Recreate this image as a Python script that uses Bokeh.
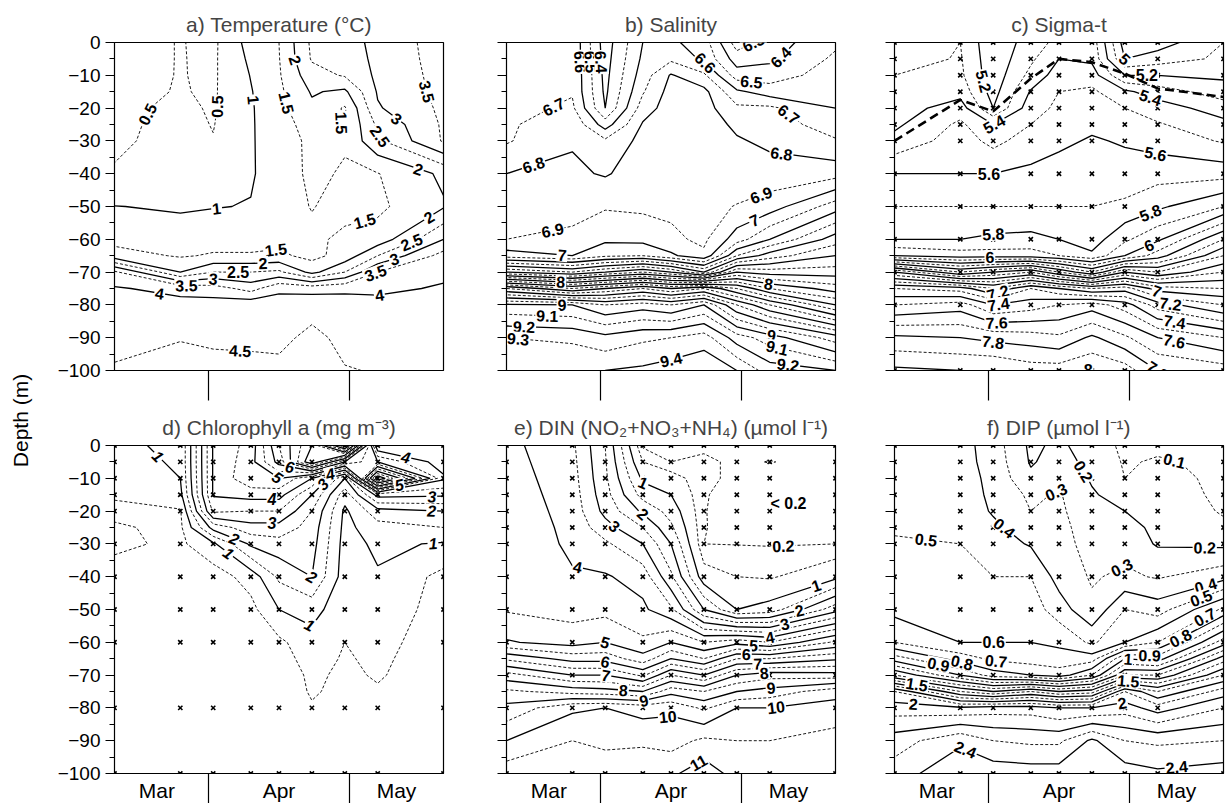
import math
import numpy as np
import contourpy
from bokeh.plotting import figure
from bokeh.models import Range1d, FixedTicker, ColumnDataSource
from bokeh.layouts import row, column
from bokeh.embed import file_html
from bokeh.resources import INLINE
from bokeh.core.properties import value

FONT = "Liberation Sans"
FW, FH = 329, 328
SX, SY = FW / 70.0, FH / 100.0

# ---------------- data ----------------
station_days = [71, 85, 92, 100, 106, 113, 120, 127, 141]
grid_depths = [0, 5, 10, 15, 20, 25, 30, 40, 50, 60, 65, 70, 75, 80, 90, 100]

month_centres = [80, 106, 131]
month_names = ["Mar", "Apr", "May"]
month_bounds = [91, 121]
depth_ticks = [0, -10, -20, -30, -40, -50, -60, -70, -80, -90, -100]
depth_minor = [-5, -15, -25, -35, -45, -55, -65, -75, -85, -95]

samples_d = [0, 5, 10, 15, 20, 30, 40, 50, 60, 80, 100]
samples_cef = [0, 5, 10, 15, 20, 25, 30, 40, 50, 60, 70, 80, 100]

# rows = depths (grid_depths), columns = stations (station_days)
temperature = [
    [0.30, 0.52, 0.40, 1.20, 1.50, 2.60, 2.70, 3.20, 3.70],
    [0.30, 0.52, 0.42, 1.10, 1.48, 2.55, 2.65, 3.15, 3.70],
    [0.32, 0.52, 0.43, 1.02, 1.45, 2.30, 2.55, 3.10, 3.68],
    [0.35, 0.53, 0.44, 0.97, 1.40, 2.05, 1.90, 3.05, 3.65],
    [0.38, 0.60, 0.45, 0.95, 1.35, 1.90, 1.45, 2.95, 3.60],
    [0.39, 0.65, 0.48, 0.95, 1.30, 1.70, 1.48, 2.60, 3.57],
    [0.40, 0.70, 0.52, 0.95, 1.28, 1.60, 1.55, 2.40, 3.55],
    [0.55, 0.80, 0.75, 0.95, 1.25, 1.60, 1.45, 1.48, 2.10],
    [1.01, 0.95, 0.98, 1.02, 1.30, 1.52, 1.35, 1.40, 1.95],
    [1.35, 1.20, 1.30, 1.30, 1.35, 1.40, 1.60, 1.70, 3.00],
    [1.70, 1.45, 1.55, 1.55, 1.60, 1.35, 1.70, 2.50, 3.70],
    [3.60, 2.00, 2.50, 2.50, 2.60, 1.85, 2.50, 3.50, 3.90],
    [4.05, 3.85, 3.75, 3.30, 3.90, 3.80, 3.90, 3.90, 4.05],
    [4.15, 4.15, 4.20, 4.35, 4.20, 4.35, 4.20, 4.15, 4.15],
    [4.35, 4.48, 4.42, 4.45, 4.40, 4.60, 4.40, 4.40, 4.30],
    [4.55, 4.65, 4.65, 4.57, 4.60, 4.70, 4.52, 4.48, 4.40],
]
salinity = [
    [6.62, 6.68, 6.35, 6.60, 6.62, 6.55, 6.25, 6.35, 6.48],
    [6.63, 6.68, 6.36, 6.62, 6.68, 6.58, 6.35, 6.38, 6.52],
    [6.64, 6.69, 6.37, 6.65, 6.81, 6.72, 6.45, 6.45, 6.55],
    [6.65, 6.69, 6.38, 6.69, 6.84, 6.83, 6.62, 6.55, 6.58],
    [6.66, 6.72, 6.40, 6.75, 6.85, 6.84, 6.72, 6.72, 6.60],
    [6.68, 6.78, 6.55, 6.81, 6.86, 6.85, 6.78, 6.75, 6.65],
    [6.69, 6.79, 6.72, 6.83, 6.86, 6.86, 6.81, 6.78, 6.71],
    [6.80, 6.82, 6.79, 6.85, 6.87, 6.87, 6.84, 6.84, 6.86],
    [6.86, 6.87, 6.89, 6.88, 6.88, 6.87, 6.905, 6.95, 7.15],
    [6.90, 6.92, 6.98, 6.97, 6.92, 6.88, 7.05, 7.20, 7.45],
    [7.05, 7.00, 7.08, 7.10, 7.02, 6.92, 7.30, 7.45, 7.60],
    [7.60, 7.50, 7.60, 7.70, 7.60, 7.40, 7.80, 7.75, 7.75],
    [8.50, 8.30, 8.40, 8.50, 8.40, 8.50, 8.30, 8.10, 7.95],
    [9.02, 9.00, 8.90, 8.95, 8.90, 9.00, 8.70, 8.50, 8.20],
    [9.30, 9.28, 9.23, 9.28, 9.30, 9.35, 9.15, 9.05, 8.85],
    [9.39, 9.39, 9.40, 9.42, 9.45, 9.48, 9.40, 9.25, 9.20],
]
sigma_t = [
    [5.20, 5.30, 5.12, 5.25, 5.33, 5.36, 4.95, 4.95, 5.10],
    [5.25, 5.31, 5.13, 5.28, 5.40, 5.38, 5.00, 5.05, 5.12],
    [5.30, 5.32, 5.14, 5.33, 5.45, 5.45, 5.20, 5.20, 5.18],
    [5.32, 5.36, 5.16, 5.41, 5.50, 5.52, 5.42, 5.35, 5.25],
    [5.35, 5.45, 5.20, 5.46, 5.52, 5.55, 5.50, 5.45, 5.35],
    [5.38, 5.52, 5.40, 5.50, 5.55, 5.58, 5.55, 5.51, 5.43],
    [5.43, 5.55, 5.47, 5.55, 5.58, 5.61, 5.59, 5.56, 5.49],
    [5.60, 5.60, 5.60, 5.62, 5.64, 5.65, 5.64, 5.66, 5.66],
    [5.70, 5.70, 5.70, 5.70, 5.70, 5.70, 5.72, 5.78, 5.90],
    [5.80, 5.80, 5.82, 5.83, 5.80, 5.75, 5.88, 5.98, 6.30],
    [6.00, 5.95, 5.95, 5.95, 5.90, 5.82, 6.00, 6.15, 6.50],
    [6.80, 6.50, 6.60, 6.70, 6.50, 6.30, 6.60, 6.50, 6.70],
    [7.30, 7.25, 7.10, 7.30, 7.20, 7.10, 7.15, 6.95, 6.90],
    [7.50, 7.55, 7.40, 7.45, 7.50, 7.55, 7.45, 7.25, 7.10],
    [7.82, 7.80, 7.77, 7.75, 7.72, 7.82, 7.72, 7.60, 7.50],
    [8.02, 8.00, 8.00, 7.95, 7.95, 7.99, 7.95, 7.80, 7.75],
]
chlorophyll = [
    [0.95, 1.05, 4.05, 4.70, 6.50, 8.00, 11.0, 3.50, 3.50],
    [0.85, 1.05, 4.05, 4.80, 6.20, 8.50, 6.00, 5.00, 3.70],
    [0.70, 1.00, 4.05, 4.90, 5.00, 4.00, 2.00, 8.50, 4.10],
    [0.55, 0.85, 4.05, 4.20, 4.20, 3.00, 1.20, 3.20, 3.10],
    [0.40, 0.45, 3.60, 3.50, 3.50, 2.50, 0.90, 1.80, 2.00],
    [0.55, 0.40, 2.20, 2.80, 2.80, 2.30, 0.85, 1.30, 1.50],
    [0.60, 0.40, 0.90, 2.10, 2.30, 2.20, 0.80, 1.10, 0.95],
    [0.30, 0.30, 0.25, 0.70, 1.60, 2.00, 0.75, 0.95, 0.35],
    [0.20, 0.20, 0.20, 0.35, 1.00, 1.20, 0.65, 0.80, 0.30],
    [0.15, 0.15, 0.15, 0.20, 0.40, 0.80, 0.50, 0.65, 0.25],
    [0.10, 0.12, 0.12, 0.15, 0.30, 0.70, 0.45, 0.60, 0.20],
    [0.10, 0.10, 0.10, 0.12, 0.20, 0.60, 0.40, 0.55, 0.18],
    [0.10, 0.10, 0.10, 0.10, 0.15, 0.56, 0.35, 0.45, 0.15],
    [0.10, 0.10, 0.10, 0.10, 0.10, 0.45, 0.30, 0.30, 0.12],
    [0.10, 0.10, 0.10, 0.10, 0.10, 0.30, 0.20, 0.20, 0.10],
    [0.10, 0.10, 0.10, 0.10, 0.10, 0.20, 0.15, 0.15, 0.10],
]
din = [
    [4.15, 3.60, 2.50, 0.15, 0.15, 0.15, 0.10, 0.10, 0.10],
    [4.20, 3.65, 2.55, 0.50, 0.20, 0.25, 0.15, 0.21, 0.10],
    [4.25, 3.70, 2.60, 0.90, 0.70, 0.25, 0.15, 0.10, 0.10],
    [4.30, 3.75, 2.70, 1.30, 1.00, 0.22, 0.10, 0.10, 0.10],
    [4.35, 3.80, 2.85, 1.90, 1.30, 0.21, 0.10, 0.10, 0.10],
    [4.40, 3.85, 3.20, 2.50, 1.60, 0.21, 0.12, 0.12, 0.15],
    [4.40, 3.90, 3.60, 3.00, 2.00, 0.20, 0.19, 0.18, 0.20],
    [4.40, 4.05, 4.05, 3.80, 2.60, 0.70, 0.50, 0.45, 0.85],
    [4.45, 4.30, 4.35, 4.10, 3.60, 2.00, 1.00, 1.20, 2.80],
    [5.05, 4.80, 5.00, 4.60, 5.00, 4.50, 4.80, 4.50, 5.60],
    [6.40, 5.80, 5.80, 5.20, 6.00, 5.50, 6.50, 6.50, 6.90],
    [7.70, 7.00, 7.00, 6.40, 7.50, 7.00, 8.00, 8.30, 8.20],
    [8.60, 8.30, 8.20, 8.00, 8.80, 8.50, 9.00, 9.20, 9.80],
    [9.15, 9.90, 10.00, 9.80, 9.90, 9.40, 10.00, 10.00, 10.20],
    [10.00, 10.50, 10.40, 10.40, 10.30, 10.60, 10.50, 10.50, 10.70],
    [10.80, 10.70, 10.75, 10.90, 10.90, 11.30, 10.80, 10.80, 10.95],
]
dip = [
    [0.46, 0.44, 0.35, 0.18, 0.22, 0.15, 0.08, 0.08, 0.08],
    [0.46, 0.44, 0.36, 0.19, 0.24, 0.17, 0.09, 0.11, 0.08],
    [0.47, 0.45, 0.37, 0.22, 0.27, 0.19, 0.10, 0.13, 0.08],
    [0.47, 0.45, 0.38, 0.28, 0.31, 0.21, 0.16, 0.15, 0.08],
    [0.48, 0.46, 0.39, 0.30, 0.32, 0.23, 0.20, 0.17, 0.09],
    [0.49, 0.48, 0.42, 0.35, 0.33, 0.25, 0.23, 0.18, 0.12],
    [0.51, 0.50, 0.45, 0.39, 0.34, 0.26, 0.26, 0.19, 0.18],
    [0.54, 0.53, 0.50, 0.50, 0.36, 0.29, 0.32, 0.29, 0.36],
    [0.57, 0.56, 0.55, 0.55, 0.45, 0.32, 0.50, 0.45, 0.72],
    [0.70, 0.60, 0.60, 0.60, 0.58, 0.48, 0.60, 0.70, 1.15],
    [0.95, 0.75, 0.68, 0.65, 0.64, 0.65, 1.00, 0.95, 1.45],
    [1.30, 1.00, 0.85, 0.80, 0.75, 0.90, 1.30, 1.30, 1.70],
    [1.90, 1.50, 1.40, 1.50, 1.40, 1.45, 1.90, 1.70, 1.95],
    [2.05, 2.02, 2.05, 2.05, 2.00, 2.00, 2.05, 1.95, 2.10],
    [2.25, 2.38, 2.30, 2.28, 2.28, 2.42, 2.30, 2.28, 2.30],
    [2.35, 2.48, 2.46, 2.45, 2.45, 2.50, 2.45, 2.42, 2.45],
]

temp_levels = [0.5, 1.0, 1.5, 2.0, 2.5, 3.0, 3.5, 4.0, 4.5]
sal_levels = [6.3, 6.4, 6.5, 6.6, 6.7, 6.8, 6.9, 7.0, 7.1, 7.2, 7.3, 7.4, 7.5, 7.6, 7.7, 7.8,
              7.9, 8.0, 8.1, 8.2, 8.3, 8.4, 8.5, 8.6, 8.7, 8.8, 8.9, 9.0, 9.1, 9.2, 9.3, 9.4]
sig_levels = [5.0, 5.1, 5.2, 5.3, 5.4, 5.5, 5.6, 5.7, 5.8, 5.9, 6.0, 6.1, 6.2, 6.3, 6.4, 6.5,
              6.6, 6.7, 6.8, 6.9, 7.0, 7.1, 7.2, 7.3, 7.4, 7.5, 7.6, 7.7, 7.8, 7.9, 8.0]
chl_levels = [0.5, 1.0, 1.5, 2.0, 2.5, 3.0, 3.5, 4.0, 4.5, 5.0, 5.5, 6.0, 6.5, 7.0, 7.5, 8.0,
              8.5, 9.0, 9.5, 10.0, 10.5]
din_levels = [0.2, 0.5, 1.0, 1.5, 2.0, 2.5, 3.0, 3.5, 4.0, 4.5, 5.0, 5.5, 6.0, 6.5, 7.0, 7.5,
              8.0, 8.5, 9.0, 9.5, 10.0, 10.5, 11.0]
dip_levels = [0.1, 0.2, 0.3, 0.4, 0.5, 0.6, 0.7, 0.8, 0.9, 1.0, 1.1, 1.2, 1.3, 1.4, 1.5, 1.6,
              1.7, 1.8, 1.9, 2.0, 2.1, 2.2, 2.3, 2.4]

# contour labels: (level, approx day, approx depth)
temp_labels = [(0.5, 79.6, 23), (0.5, 94.1, 19.6), (1.0, 100.5, 17.5), (1.5, 107.2, 18.5),
               (2.0, 108.3, 5.9), (1.5, 118.2, 24.6), (2.5, 127.4, 28.7), (3.0, 129.8, 25.6),
               (3.5, 135.9, 15.5), (2.0, 135.5, 39.3), (1.0, 92.7, 50.2), (1.5, 124.9, 58),
               (2.0, 138, 53.5), (1.5, 105.4, 64.1), (2.5, 134.4, 61.6), (2.0, 102.6, 68.2),
               (3.0, 130.9, 67.7), (2.5, 97.3, 70.7), (3.0, 92, 71.7), (3.5, 86.3, 74.3),
               (3.5, 127, 72.2), (4.0, 80.7, 75.8), (4.0, 127.4, 77.3), (4.5, 97.7, 95.1)]
sal_labels = [(6.6, 85.8, 6), (6.5, 88, 6), (6.4, 90.8, 6), (6.7, 80.5, 18.1), (6.8, 77, 38.4),
              (6.6, 112.4, 7.5), (6.3, 126.2, 6), (6.5, 123, 13.6), (6.4, 132.6, 9),
              (6.7, 130.1, 23.7), (6.8, 129.4, 34.9), (6.9, 81, 58.6), (6.9, 125.4, 47.4),
              (7.0, 82.8, 65.1), (7.0, 124.3, 56), (8.0, 82.5, 74.3), (8.0, 126.8, 73.3),
              (9.0, 82.8, 80.3), (9.1, 79.7, 82.9), (9.2, 74.7, 87.4), (9.3, 73.3, 93.1),
              (9.4, 105.9, 96.1), (9.0, 127.2, 90.6), (9.1, 128.6, 93.1), (9.2, 131.1, 96.1)]
sig_labels = [(5.2, 87.9, 12.6), (5.4, 92.5, 25.7), (5.0, 119, 6), (5.2, 124.7, 12.1),
              (5.4, 125.4, 17.1), (5.6, 91.1, 40.4), (5.6, 126.4, 34.9), (5.8, 92, 58),
              (5.8, 125.6, 52.5), (6.0, 91.3, 66.2), (6.0, 124.9, 61.1), (7.0, 126.7, 76.3),
              (7.2, 93.1, 76.8), (7.2, 129.8, 78.8), (7.4, 93.1, 79.8), (7.4, 130.9, 82.4),
              (7.6, 92.7, 84.9), (7.6, 130.9, 88.4), (7.8, 92, 91), (7.8, 130.6, 98.2),
              (8.0, 112.2, 99.7)]
chl_labels = [(1.0, 80.5, 2.9), (6.0, 108.4, 5.5), (4.0, 116.5, 6.5), (5.0, 105.3, 10.5),
              (4.0, 104.5, 16.6), (3.0, 115.1, 11.5), (3.0, 104.5, 23.6), (4.0, 132.8, 4.9),
              (5.0, 131.4, 11), (3.0, 138.5, 15), (2.0, 138.5, 19.6), (2.0, 97.1, 26.2),
              (1.0, 96.4, 30.7), (2.0, 112.3, 41.8), (1.0, 112.5, 54.8), (1.0, 138.7, 28.6)]
din_labels = [(1.0, 99.9, 12), (2.0, 99.6, 21.6), (3.0, 94.6, 23.6), (4.0, 86.5, 34.7),
              (0.2, 130, 34.2), (1.0, 136.9, 42.7), (2.0, 133.4, 50.8), (3.0, 130.2, 54.3),
              (4.0, 127, 58.4), (5.0, 92, 59.4), (5.0, 123.5, 61.9), (6.0, 92, 66),
              (6.0, 122, 65.5), (7.0, 92.1, 70.5), (7.0, 124.5, 68), (8.0, 95.9, 74),
              (8.0, 126, 72), (9.0, 100.1, 77.1), (9.0, 127.4, 76.1), (10.0, 105.1, 79.6),
              (10.0, 128.4, 80.1), (11.0, 111.5, 95.8)]
dip_labels = [(0.1, 130.7, 3.9), (0.2, 110.5, 8.5), (0.3, 105.2, 13.5), (0.4, 95, 24.1),
              (0.5, 77.6, 29.7), (0.2, 137, 33.7), (0.3, 119.4, 37.3), (0.4, 137.3, 43.2),
              (0.5, 136.3, 46.8), (0.7, 136.6, 51.3), (0.8, 131, 56.4), (0.9, 125.3, 62.9),
              (1.0, 120.7, 65), (1.5, 120.7, 72.5), (2.0, 119.3, 77.1), (0.6, 92.1, 56.9),
              (0.7, 92.8, 62.9), (0.8, 85.4, 66), (0.9, 80.1, 68.5), (1.5, 75.8, 72.5),
              (2.0, 75.1, 77.1), (2.4, 86.1, 92.7), (2.4, 131, 97.5)]

# thick dashed line in sigma-t panel
mld_days = [71, 85, 92, 100, 106, 113, 120, 127, 141]
mld_depths = [30, 17.5, 21, 11, 5, 6, 9.5, 14, 16.6]

note_text = ["< 0.2"]
note_day = [131]
note_depth = [17.6]


def fmt(v):
    return f"{v:g}"


def is_solid(lev, rule):
    if rule == "half":
        return abs(lev - round(lev)) < 1e-6
    return int(round(lev * 10)) % 2 == 0


def snap(segs, day, depth):
    px, py = day * SX, -depth * SY
    best = (1e9, day, -depth, 0.0)
    for s in segs:
        if len(s) < 2:
            continue
        ax = s[:-1, 0] * SX
        ay = s[:-1, 1] * SY
        dx = s[1:, 0] * SX - ax
        dy = s[1:, 1] * SY - ay
        L2 = dx * dx + dy * dy
        L2 = np.where(L2 == 0, 1e-12, L2)
        t = np.clip(((px - ax) * dx + (py - ay) * dy) / L2, 0, 1)
        qx = ax + t * dx
        qy = ay + t * dy
        dist = np.hypot(qx - px, qy - py)
        i = int(np.argmin(dist))
        if dist[i] < best[0]:
            best = (dist[i], qx[i] / SX, qy[i] / SY, math.atan2(dy[i], dx[i]))
    d, x, y, ang = best
    if d > 30:
        return day, -depth, 0.0
    if ang > math.pi / 2:
        ang -= math.pi
    elif ang <= -math.pi / 2:
        ang += math.pi
    return x, y, ang


def build(title, grid, levels, rule, labels, samples, ylabels, months, left, right,
          italic=False):
    p = figure(title=title, frame_width=FW, frame_height=FH,
               x_range=Range1d(71, 141), y_range=Range1d(-100, 0),
               output_backend="svg", toolbar_location=None,
               min_border_left=left, min_border_right=right,
               min_border_top=(35 if months else 42), min_border_bottom=(31 if months else 37),
               background_fill_color="white", border_fill_color="white")
    p.outline_line_color = "black"
    p.outline_line_width = 1.2
    p.xgrid.visible = False
    p.ygrid.visible = False
    p.title.text_font = FONT
    p.title.text_font_size = "21px"
    p.title.text_font_style = "normal"
    p.title.align = "center"
    p.title.standoff = 13

    yax = p.yaxis[0]
    yax.ticker = FixedTicker(ticks=depth_ticks, minor_ticks=depth_minor)
    yax.major_tick_out = 9
    yax.major_tick_in = 0
    yax.minor_tick_out = 5
    yax.minor_tick_in = 0
    yax.major_label_standoff = 5
    yax.axis_line_color = "black"
    yax.major_tick_line_color = "black"
    yax.minor_tick_line_color = "black"
    yax.major_label_text_font = FONT
    yax.major_label_text_font_size = "19px"
    yax.major_label_text_color = "black"
    if ylabels:
        yax.major_label_overrides = {t: str(t).replace("-", "\u2212") for t in depth_ticks}
    else:
        yax.major_label_overrides = {t: "" for t in depth_ticks}

    xax = p.xaxis[0]
    xax.ticker = FixedTicker(ticks=month_centres, minor_ticks=month_bounds)
    xax.major_tick_out = 0
    xax.major_tick_in = 0
    xax.minor_tick_out = 30
    xax.minor_tick_in = 0
    xax.minor_tick_line_color = "black"
    xax.minor_tick_line_width = 1.2
    xax.axis_line_color = "black"
    xax.major_label_standoff = -25
    xax.major_label_text_font = FONT
    xax.major_label_text_font_size = "21px"
    xax.major_label_text_color = "black"
    if months:
        xax.major_label_overrides = dict(zip(month_centres, month_names))
    else:
        xax.major_label_overrides = {t: "" for t in month_centres}

    x = np.array(station_days, dtype=float)
    y = -np.array(grid_depths, dtype=float)[::-1]
    z = np.array(grid, dtype=float)[::-1, :]
    gen = contourpy.contour_generator(x=x, y=y, z=z, line_type="Separate")

    lines_by_level = []
    sx, sy, dxs, dys = [], [], [], []
    for lev in levels:
        segs = gen.lines(lev + 1e-7)
        lines_by_level.append(segs)
        for s in segs:
            if is_solid(lev, rule):
                sx.append(s[:, 0].tolist()); sy.append(s[:, 1].tolist())
            else:
                dxs.append(s[:, 0].tolist()); dys.append(s[:, 1].tolist())
    if dxs:
        p.multi_line(xs=dxs, ys=dys, line_color="black", line_width=0.9, line_dash="3 2")
    if sx:
        p.multi_line(xs=sx, ys=sy, line_color="black", line_width=1.3)

    if samples:
        mx, my = [], []
        for d in station_days:
            for s in samples:
                mx.append(d); my.append(-s)
        p.scatter(mx, my, marker="x", size=6, line_width=1.6, color="black")

    lx, ly, la, lt = [], [], [], []
    for lev, day, dep in labels:
        k = int(np.argmin([abs(lev - L) for L in levels]))
        xx, yy, aa = snap(lines_by_level[k], day, dep)
        lx.append(xx); ly.append(yy); la.append(aa); lt.append(fmt(lev))
    src = ColumnDataSource(dict(x=lx, y=ly, angle=la, text=lt))
    p.text(x="x", y="y", text="text", angle="angle", source=src,
           text_font=value(FONT), text_font_size="16px",
           text_font_style=("bold italic" if italic else "bold"),
           text_align="center", text_baseline="middle", text_color="black",
           background_fill_color="white", padding=1)
    return p


pa = build("a) Temperature (°C)", temperature, temp_levels, "half", temp_labels, None,
           True, False, 78, 32)
pb = build("b) Salinity", salinity, sal_levels, "tenth", sal_labels, None,
           False, False, 31, 29)
pc = build("c) Sigma-t", sigma_t, sig_levels, "tenth", sig_labels, samples_cef,
           False, False, 30, 2)
pc.line(mld_days, [-d for d in mld_depths], line_color="black", line_width=2.6,
        line_dash="9 5")
pd = build("d) Chlorophyll a (mg m\u207b\u00b3)", chlorophyll, chl_levels, "half", chl_labels,
           samples_d, True, True, 78, 32, italic=True)
pe = build("e) DIN (NO\u2082+NO\u2083+NH\u2084) (\u00b5mol l\u207b\u00b9)", din, din_levels,
           "half", din_labels, samples_cef, False, True, 31, 29)
pe.text(x=note_day, y=[-d for d in note_depth], text=note_text, text_font=value(FONT),
        text_font_size="16px", text_font_style="bold", text_align="center",
        text_baseline="middle", text_color="black")
pf = build("f) DIP (\u00b5mol l\u207b\u00b9)", dip, dip_levels, "tenth", dip_labels, samples_cef,
           False, True, 30, 2)

ylab = figure(width=36, height=801, x_range=Range1d(0, 36), y_range=Range1d(0, 801),
              output_backend="svg", toolbar_location=None, min_border=0,
              x_axis_location=None, y_axis_location=None, outline_line_color=None)
ylab.xgrid.visible = False
ylab.ygrid.visible = False
ylab.text(x=[20], y=[381], text=["Depth (m)"], angle=math.pi / 2, text_font=value(FONT),
          text_font_size="21px", text_align="center", text_baseline="middle",
          text_color="black")

layout = row(ylab, column(row(pa, pb, pc), row(pd, pe, pf)))
open("out.html", "w").write(file_html(layout, INLINE))
